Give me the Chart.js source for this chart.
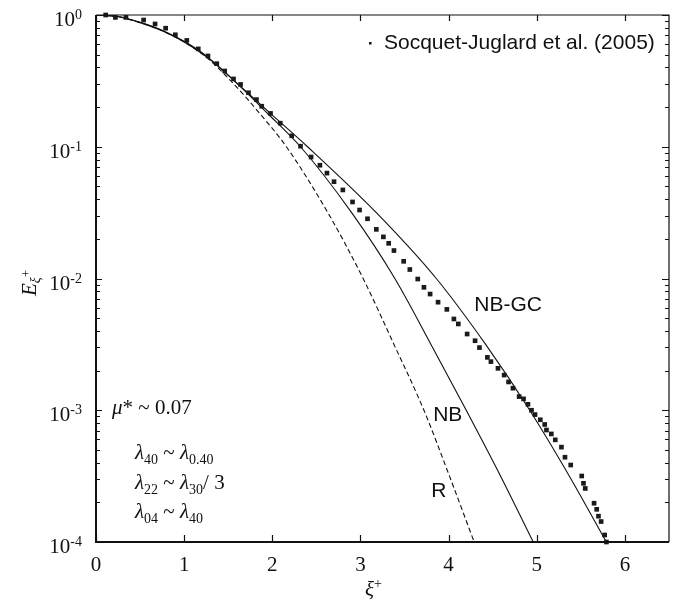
<!DOCTYPE html>
<html>
<head>
<meta charset="utf-8">
<script src="https://cdn.jsdelivr.net/npm/chart.js@4.4.1/dist/chart.umd.min.js"></script>
<style>
  html, body { margin: 0; padding: 0; background: #fff; }
  #wrap { width: 677px; height: 604px; }
</style>
</head>
<body>
<div id="wrap"><canvas id="chart" width="677" height="604"></canvas></div>
<script>
// Socquet-Juglard et al. (2005) points
const dnsX = [0.11,0.22,0.34,0.54,0.67,0.79,0.90,1.03,1.16,1.27,1.37,1.46,1.56,1.64,1.73,1.82,1.88,1.98,2.09,2.22,2.32,2.44,2.54,2.62,2.70,2.80,2.91,2.99,3.08,3.18,3.26,3.32,3.38,3.49,3.56,3.65,3.72,3.79,3.88,3.98,4.06,4.11,4.21,4.30,4.35,4.44,4.48,4.56,4.63,4.68,4.73,4.80,4.85,4.90,4.94,4.98,5.04,5.09,5.11,5.165,5.21,5.28,5.32,5.385,5.51,5.53,5.55,5.65,5.68,5.70,5.73,5.77,5.79];
const dnsE = [1.0,0.959,0.959,0.916,0.855,0.794,0.708,0.641,0.553,0.489,0.427,0.376,0.327,0.297,0.257,0.228,0.203,0.179,0.151,0.121,0.101,0.0836,0.0724,0.0631,0.0543,0.0470,0.0381,0.0331,0.0284,0.0236,0.0207,0.0185,0.0163,0.0135,0.0117,0.00991,0.00857,0.00762,0.00661,0.00583,0.00493,0.00452,0.00379,0.00337,0.00299,0.00252,0.00234,0.00208,0.00185,0.00164,0.00147,0.00127,0.00122,0.00111,0.00100,0.000927,0.000847,0.000780,0.000708,0.000661,0.000596,0.000525,0.000440,0.000384,0.000317,0.000279,0.000255,0.000197,0.000177,0.000157,0.000143,0.000113,0.0001];

// NB-GC curve
const nbgcX = [0,0.25,0.5,0.75,1.0,1.25,1.57,2.0,2.40,3.18,3.86,4.42,4.92,5.37,5.79];
const nbgcE = [1,0.973,0.881,0.767,0.631,0.490,0.316,0.174,0.1,0.0316,0.01,0.00316,0.001,0.000316,0.0001];

// NB curve
const nbX = [0,0.25,0.5,0.75,1.0,1.25,1.52,1.95,2.32,2.90,3.39,3.80,4.20,4.59,4.96];
const nbE = [1,0.970,0.875,0.759,0.624,0.484,0.339,0.178,0.1,0.0316,0.01,0.00316,0.001,0.000316,0.0001];

// R curve (dashed)
const rX = [0,0.25,0.5,0.75,1.0,1.25,1.53,1.86,2.16,2.63,3.03,3.38,3.72,4.01,4.29];
const rE = [1,0.970,0.875,0.759,0.624,0.479,0.316,0.178,0.1,0.0316,0.01,0.00316,0.001,0.000316,0.0001];

const xTicks = [0, 1, 2, 3, 4, 5, 6];
const yTicks = [1, 0.1, 0.01, 0.001, 0.0001];
const yTickExp = ['0', '-1', '-2', '-3', '-4'];

const serif = '"Liberation Serif", "Times New Roman", serif';
const sans = '"Liberation Sans", Arial, sans-serif';

const pts = (xs, ys) => xs.map((v, i) => ({ x: v, y: ys[i] }));

function drawParts(ctx, x, y, parts) {
  for (const p of parts) {
    ctx.font = p.f;
    ctx.fillText(p.t, x, y + (p.dy || 0));
    x += ctx.measureText(p.t).width;
  }
}

const frame = {
  id: 'frame',
  afterDraw(chart) {
    const { ctx, chartArea: a, scales: { x, y } } = chart;
    ctx.save();
    ctx.strokeStyle = '#111';
    ctx.fillStyle = '#111';

    // frame
    ctx.lineWidth = 1.2;
    ctx.beginPath();
    ctx.moveTo(a.left, a.top); ctx.lineTo(a.right, a.top); ctx.lineTo(a.right, a.bottom);
    ctx.stroke();
    ctx.lineWidth = 2;
    ctx.beginPath();
    ctx.moveTo(a.left, a.top); ctx.lineTo(a.left, a.bottom); ctx.lineTo(a.right, a.bottom);
    ctx.stroke();

    // x ticks (inward, bottom and top)
    ctx.lineWidth = 1.2;
    xTicks.forEach(v => {
      const px = Math.round(x.getPixelForValue(v)) + 0.5;
      ctx.beginPath();
      ctx.moveTo(px, a.bottom); ctx.lineTo(px, a.bottom - 7);
      ctx.moveTo(px, a.top); ctx.lineTo(px, a.top + 6);
      ctx.stroke();
    });

    // y ticks, major and minor (left and right)
    for (let d = 0; d < yTicks.length; d++) {
      const py = Math.round(y.getPixelForValue(yTicks[d])) + 0.5;
      ctx.beginPath();
      ctx.moveTo(a.left, py); ctx.lineTo(a.left + 6, py);
      ctx.moveTo(a.right, py); ctx.lineTo(a.right - 7, py);
      ctx.stroke();
      if (d < yTicks.length - 1) {
        for (let m = 2; m <= 9; m++) {
          const my = Math.round(y.getPixelForValue(yTicks[d + 1] * m)) + 0.5;
          ctx.beginPath();
          ctx.moveTo(a.left, my); ctx.lineTo(a.left + 4, my);
          ctx.moveTo(a.right, my); ctx.lineTo(a.right - 4, my);
          ctx.stroke();
        }
      }
    }

    // x tick labels
    ctx.font = '21px ' + serif;
    ctx.textAlign = 'center';
    ctx.textBaseline = 'alphabetic';
    xTicks.forEach(v => {
      ctx.fillText(String(v), x.getPixelForValue(v), a.bottom + 29);
    });

    // y tick labels 10^n
    ctx.textAlign = 'left';
    yTicks.forEach((v, i) => {
      const py = y.getPixelForValue(v);
      ctx.font = '21px ' + serif;
      const w1 = ctx.measureText('10').width;
      ctx.font = '14px ' + serif;
      const w2 = ctx.measureText(yTickExp[i]).width;
      const x0 = a.left - 14 - w1 - w2;
      drawParts(ctx, x0, py + 11, [
        { t: '10', f: '21px ' + serif },
        { t: yTickExp[i], f: '14px ' + serif, dy: -7 }
      ]);
    });

    // axis titles
    drawParts(ctx, 365, 596, [
      { t: '\u03be', f: 'italic 21px ' + serif },
      { t: '+', f: '14px ' + serif, dy: -8 }
    ]);
    ctx.save();
    ctx.translate(36, 296);
    ctx.rotate(-Math.PI / 2);
    drawParts(ctx, 0, 0, [
      { t: 'E', f: 'italic 21px ' + serif },
      { t: '\u03be', f: 'italic 14px ' + serif, dy: 4 },
      { t: '+', f: '13px ' + serif, dy: -6 }
    ]);
    ctx.restore();

    // legend
    ctx.fillRect(369, 42, 2.5, 2.5);
    ctx.font = '21px ' + sans;
    ctx.textBaseline = 'middle';
    ctx.fillText('Socquet-Juglard et al. (2005)', 384, 43);

    // curve labels
    ctx.textAlign = 'center';
    ctx.fillText('NB-GC', x.getPixelForValue(4.675), y.getPixelForValue(Math.pow(10, -2.2)));
    ctx.fillText('NB', x.getPixelForValue(3.99), y.getPixelForValue(Math.pow(10, -3.036)));
    ctx.fillText('R', x.getPixelForValue(3.89), y.getPixelForValue(Math.pow(10, -3.613)));

    // parameters
    ctx.textAlign = 'left';
    ctx.textBaseline = 'alphabetic';
    const it = 'italic 21px ' + serif, rm = '21px ' + serif, sb = '14px ' + serif;
    drawParts(ctx, 112, 414, [{ t: '\u03bc', f: it }, { t: '* ~ 0.07', f: rm }]);
    drawParts(ctx, 135, 459, [{ t: '\u03bb', f: it }, { t: '40', f: sb, dy: 5 }, { t: ' ~ ', f: rm }, { t: '\u03bb', f: it }, { t: '0.40', f: sb, dy: 5 }]);
    drawParts(ctx, 135, 489, [{ t: '\u03bb', f: it }, { t: '22', f: sb, dy: 5 }, { t: ' ~ ', f: rm }, { t: '\u03bb', f: it }, { t: '30', f: sb, dy: 5 }, { t: '/ 3', f: rm }]);
    drawParts(ctx, 135, 518, [{ t: '\u03bb', f: it }, { t: '04', f: sb, dy: 5 }, { t: ' ~ ', f: rm }, { t: '\u03bb', f: it }, { t: '40', f: sb, dy: 5 }]);

    ctx.restore();
  }
};

new Chart(document.getElementById('chart'), {
  type: 'scatter',
  data: {
    datasets: [
      {
        label: 'Socquet-Juglard et al. (2005)',
        data: pts(dnsX, dnsE),
        showLine: false,
        pointStyle: 'rect',
        pointRadius: 3.3,
        borderWidth: 0,
        backgroundColor: '#1a1a1a',
        clip: 6
      },
      {
        label: 'NB-GC',
        data: pts(nbgcX, nbgcE),
        showLine: true,
        pointRadius: 0,
        borderColor: '#111',
        borderWidth: 1.1,
        cubicInterpolationMode: 'monotone'
      },
      {
        label: 'NB',
        data: pts(nbX, nbE),
        showLine: true,
        pointRadius: 0,
        borderColor: '#111',
        borderWidth: 1.1,
        cubicInterpolationMode: 'monotone'
      },
      {
        label: 'R',
        data: pts(rX, rE),
        showLine: true,
        pointRadius: 0,
        borderColor: '#111',
        borderWidth: 1.1,
        borderDash: [5, 3],
        cubicInterpolationMode: 'monotone'
      }
    ]
  },
  options: {
    responsive: false,
    animation: false,
    layout: { padding: { left: 96, top: 15, right: 8, bottom: 62 } },
    plugins: { legend: { display: false }, tooltip: { enabled: false } },
    scales: {
      x: { type: 'linear', min: 0, max: 6.5, display: false },
      y: { type: 'logarithmic', min: 0.0001, max: 1, display: false }
    }
  },
  plugins: [frame]
});
</script>
</body>
</html>
